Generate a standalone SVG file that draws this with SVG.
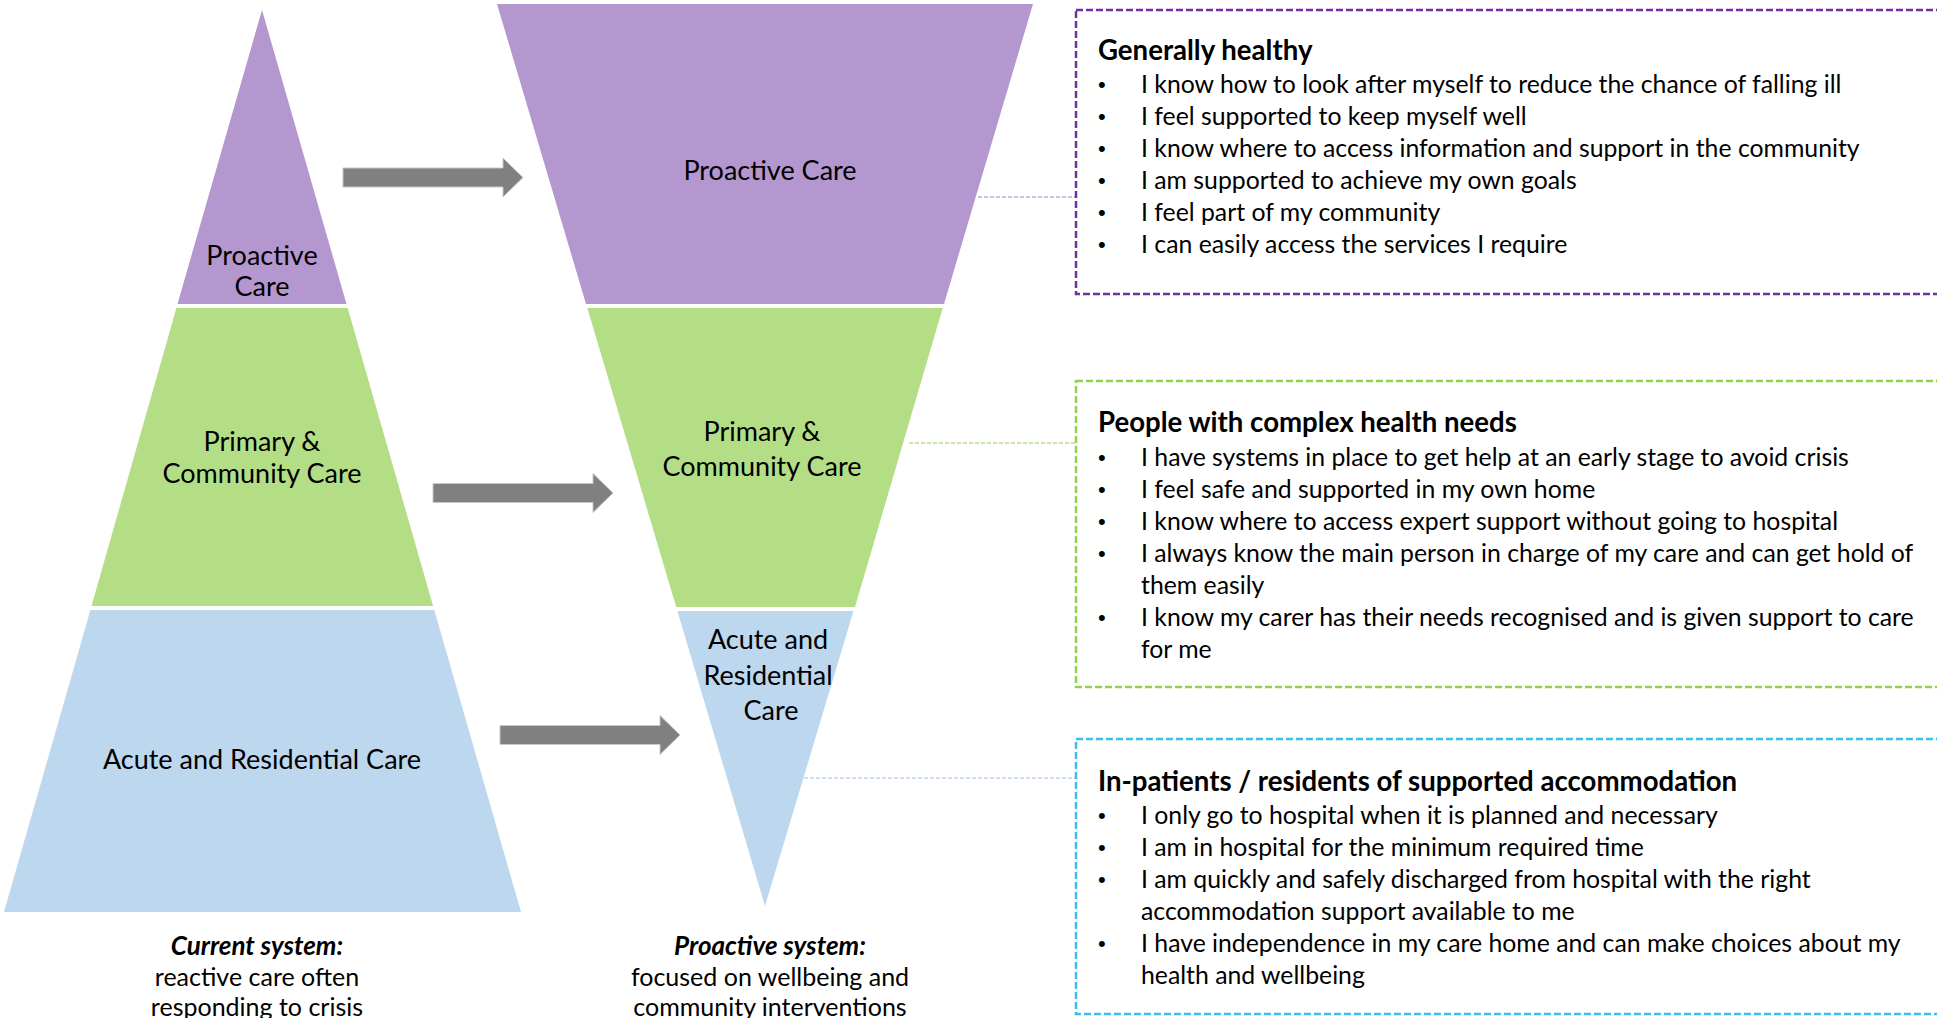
<svg xmlns="http://www.w3.org/2000/svg" width="1937" height="1018" viewBox="0 0 1937 1018">
<style>
.t{font-family:Lato,"Liberation Sans",sans-serif;fill:#000}
.pl{font-size:27px;text-anchor:middle}
.bx{font-size:24.8px}
.bu{font-family:"Liberation Sans",sans-serif;font-size:22px}
.hd{font-size:27.6px;font-weight:bold}
.cap{font-size:25px;text-anchor:middle}
.capb{font-size:26px;text-anchor:middle;font-weight:bold;font-style:italic}
.purple{fill:#b497ce}
.green{fill:#b4de86}
.blue{fill:#bdd7ee}
.arrow{fill:#808080;stroke:#c8c8c8;stroke-width:1}
.box{fill:none;stroke-width:2.5;stroke-dasharray:7 3}
.conn{fill:none;stroke-width:1.5;stroke-dasharray:4 2}
</style>
<rect width="1937" height="1018" fill="#fff"/>
<g id="current-system">
  <g id="cur-proactive">
    <polygon class="purple" points="262,10 346.5,304 177.5,304"/>
    <text class="t pl" x="262" y="265">Proactive</text>
    <text class="t pl" x="262" y="296">Care</text>
  </g>
  <g id="cur-primary">
    <polygon class="green" points="176.4,308 347.7,308 433.1,606 91.5,606"/>
    <text class="t pl" x="262" y="451">Primary &amp;</text>
    <text class="t pl" x="262" y="483">Community Care</text>
  </g>
  <g id="cur-acute">
    <polygon class="blue" points="90.4,610 434.3,610 521,912 4,912"/>
    <text class="t pl" x="262" y="769">Acute and Residential Care</text>
  </g>
  <g id="cur-caption">
    <text class="t capb" x="257" y="955">Current system:</text>
    <text class="t cap" x="257" y="986">reactive care often</text>
    <text class="t cap" x="257" y="1016">responding to crisis</text>
  </g>
</g>
<g id="proactive-system">
  <g id="pro-proactive">
    <polygon class="purple" points="497,4 1033,4 944,304 586,304"/>
    <text class="t pl" x="770" y="180">Proactive Care</text>
  </g>
  <g id="pro-primary">
    <polygon class="green" points="587.3,308 942.7,308 855,607 676.2,607"/>
    <text class="t pl" x="762" y="441">Primary &amp;</text>
    <text class="t pl" x="762" y="476">Community Care</text>
  </g>
  <g id="pro-acute">
    <polygon class="blue" points="677.4,611 853.5,611 765,906"/>
    <text class="t pl" x="768" y="649">Acute and</text>
    <text class="t pl" x="768" y="685">Residential</text>
    <text class="t pl" x="771" y="720">Care</text>
  </g>
  <g id="pro-caption">
    <text class="t capb" x="770" y="955">Proactive system:</text>
    <text class="t cap" x="770" y="986">focused on wellbeing and</text>
    <text class="t cap" x="770" y="1016">community interventions</text>
  </g>
</g>
<g id="connectors">
  <polygon class="arrow" points="343,168 503,168 503,158 523,177.5 503,197 503,187 343,187"/>
  <polygon class="arrow" points="433,483.5 593,483.5 593,473.5 613,493 593,512.5 593,502.5 433,502.5"/>
  <polygon class="arrow" points="500,725.5 660,725.5 660,715.5 680,735 660,754.5 660,744.5 500,744.5"/>
  <line class="conn" x1="978" y1="197" x2="1075" y2="197" stroke="#bfa9dc"/>
  <line class="conn" x1="909" y1="443" x2="1075" y2="443" stroke="#b9e08f"/>
  <line class="conn" x1="804" y1="778" x2="1075" y2="778" stroke="#bcd5ef"/>
</g>
<g id="box-healthy">
  <rect class="box" x="1076" y="10" width="880" height="284" stroke="#7030a0"/>
  <text class="t hd" x="1098" y="60">Generally healthy</text>
  <g class="t bx">
    <text class="bu" x="1098" y="92">•</text><text x="1141" y="93">I know how to look after myself to reduce the chance of falling ill</text>
    <text class="bu" x="1098" y="124">•</text><text x="1141" y="125">I feel supported to keep myself well</text>
    <text class="bu" x="1098" y="156">•</text><text x="1141" y="157">I know where to access information and support in the community</text>
    <text class="bu" x="1098" y="188">•</text><text x="1141" y="189">I am supported to achieve my own goals</text>
    <text class="bu" x="1098" y="220">•</text><text x="1141" y="221">I feel part of my community</text>
    <text class="bu" x="1098" y="252">•</text><text x="1141" y="253">I can easily access the services I require</text>
  </g>
</g>
<g id="box-complex">
  <rect class="box" x="1076" y="381" width="880" height="306" stroke="#92d050"/>
  <text class="t hd" x="1098" y="432">People with complex health needs</text>
  <g class="t bx">
    <text class="bu" x="1098" y="464.5">•</text><text x="1141" y="465.5">I have systems in place to get help at an early stage to avoid crisis</text>
    <text class="bu" x="1098" y="496.5">•</text><text x="1141" y="497.5">I feel safe and supported in my own home</text>
    <text class="bu" x="1098" y="528.5">•</text><text x="1141" y="529.5">I know where to access expert support without going to hospital</text>
    <text class="bu" x="1098" y="560.5">•</text><text x="1141" y="561.5">I always know the main person in charge of my care and can get hold of</text>
    <text x="1141" y="593.5">them easily</text>
    <text class="bu" x="1098" y="624.5">•</text><text x="1141" y="625.5">I know my carer has their needs recognised and is given support to care</text>
    <text x="1141" y="657.5">for me</text>
  </g>
</g>
<g id="box-inpatients">
  <rect class="box" x="1076" y="739" width="880" height="275" stroke="#3dbdf0"/>
  <text class="t hd" x="1098" y="791">In-patients / residents of supported accommodation</text>
  <g class="t bx">
    <text class="bu" x="1098" y="822.5">•</text><text x="1141" y="823.5">I only go to hospital when it is planned and necessary</text>
    <text class="bu" x="1098" y="854.5">•</text><text x="1141" y="855.5">I am in hospital for the minimum required time</text>
    <text class="bu" x="1098" y="886.5">•</text><text x="1141" y="887.5">I am quickly and safely discharged from hospital with the right</text>
    <text x="1141" y="919.5">accommodation support available to me</text>
    <text class="bu" x="1098" y="950.5">•</text><text x="1141" y="951.5">I have independence in my care home and can make choices about my</text>
    <text x="1141" y="983.5">health and wellbeing</text>
  </g>
</g>
</svg>
